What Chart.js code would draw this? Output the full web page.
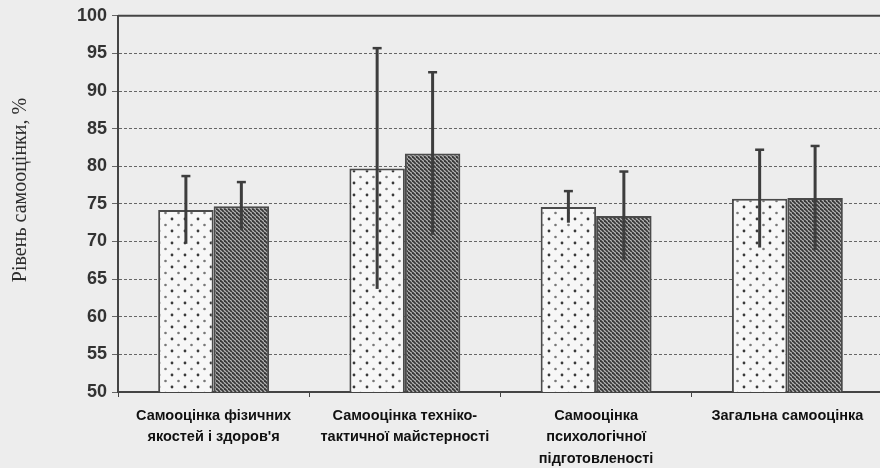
<!DOCTYPE html>
<html>
<head>
<meta charset="utf-8">
<script src="https://cdn.jsdelivr.net/npm/chart.js@4/dist/chart.umd.min.js"></script>
<style>
  html, body { margin: 0; padding: 0; background: #ededed; overflow: hidden; }
  #wrap { width: 883px; height: 468px; }
</style>
</head>
<body>
<div id="wrap"><canvas id="c" width="883" height="468"></canvas></div>
<script>
// ---- data ----
const categories = [
  ["Самооцінка фізичних", "якостей і здоров'я"],
  ["Самооцінка техніко-", "тактичної майстерності"],
  ["Самооцінка", "психологічної", "підготовленості"],
  ["Загальна самооцінка"]
];
const seriesA = [74.2, 79.7, 74.6, 75.7];
const errorsA = [4.5, 16.0, 2.1, 6.5];
const seriesB = [74.7, 81.7, 73.4, 75.8];
const errorsB = [3.2, 10.8, 5.9, 6.9];
const yTitle = "Рівень самооцінки, %";
const yMin = 50, yMax = 100, yStep = 5;

// ---- patterns ----
function dotPattern() {
  const c = document.createElement('canvas');
  c.width = 13; c.height = 12;
  const g = c.getContext('2d');
  g.fillStyle = '#f7f7f7';
  g.fillRect(0, 0, 13, 12);
  g.fillStyle = '#3a3a3a';
  g.beginPath(); g.arc(3, 3, 1.4, 0, Math.PI * 2); g.fill();
  g.fillStyle = '#777';
  g.beginPath(); g.arc(9.5, 9, 1.3, 0, Math.PI * 2); g.fill();
  return g.createPattern(c, 'repeat');
}
function hatchPattern() {
  const s = 4;
  const c = document.createElement('canvas');
  c.width = s; c.height = s;
  const g = c.getContext('2d');
  g.fillStyle = '#b8b8b8';
  g.fillRect(0, 0, s, s);
  g.strokeStyle = '#383838';
  g.lineWidth = 1.8;
  for (let k = -1; k <= 1; k++) {
    g.beginPath();
    g.moveTo(k * s, 0);
    g.lineTo(k * s + s, s);
    g.stroke();
  }
  return g.createPattern(c, 'repeat');
}

const errorSets = [errorsA, errorsB];

const bgPlugin = {
  id: 'bg',
  beforeDraw(chart) {
    const ctx = chart.ctx;
    ctx.save();
    ctx.fillStyle = '#ededed';
    ctx.fillRect(0, 0, chart.width, chart.height);
    ctx.restore();
  }
};

const framePlugin = {
  id: 'frame',
  afterDraw(chart) {
    const ctx = chart.ctx, a = chart.chartArea;
    ctx.save();
    ctx.strokeStyle = '#444';
    ctx.lineWidth = 2;
    ctx.beginPath();
    ctx.moveTo(a.left, a.top);
    ctx.lineTo(a.right, a.top);
    ctx.stroke();
    // y axis title
    ctx.fillStyle = '#2e2e2e';
    ctx.font = '20px "Liberation Serif", "DejaVu Serif", serif';
    ctx.textAlign = 'center';
    ctx.textBaseline = 'middle';
    ctx.translate(21, 190);
    ctx.rotate(-Math.PI / 2);
    ctx.fillText(yTitle, 0, 0);
    ctx.restore();
  }
};

const errorPlugin = {
  id: 'errbars',
  afterDatasetsDraw(chart) {
    const ctx = chart.ctx, y = chart.scales.y;
    ctx.save();
    ctx.strokeStyle = '#3d3d3d';
    chart.data.datasets.forEach((ds, i) => {
      const meta = chart.getDatasetMeta(i);
      meta.data.forEach((el, j) => {
        const v = ds.data[j], e = errorSets[i][j];
        const yt = y.getPixelForValue(v + e);
        const yb = y.getPixelForValue(v - e);
        ctx.lineWidth = 3;
        ctx.beginPath();
        ctx.moveTo(el.x, yt);
        ctx.lineTo(el.x, yb);
        ctx.stroke();
        ctx.lineWidth = 2.5;
        ctx.beginPath();
        ctx.moveTo(el.x - 4.5, yt);
        ctx.lineTo(el.x + 4.5, yt);
        ctx.stroke();
      });
    });
    ctx.restore();
  }
};

new Chart(document.getElementById('c'), {
  type: 'bar',
  data: {
    labels: categories,
    datasets: [
      { label: 'Група A', data: seriesA, backgroundColor: dotPattern(),
        borderColor: '#4a4a4a', borderWidth: 2, borderSkipped: 'start',
        categoryPercentage: 0.58, barPercentage: 1.0 },
      { label: 'Група B', data: seriesB, backgroundColor: hatchPattern(),
        borderColor: '#4a4a4a', borderWidth: 2, borderSkipped: 'start',
        categoryPercentage: 0.58, barPercentage: 1.0 }
    ]
  },
  options: {
    responsive: false,
    animation: false,
    devicePixelRatio: 1,
    layout: { padding: { top: 15, left: 0, right: 0, bottom: 0 } },
    plugins: { legend: { display: false }, tooltip: { enabled: false } },
    scales: {
      x: {
        offset: true,
        grid: { display: true, drawOnChartArea: false, drawTicks: true, tickLength: 5, color: '#444', offset: true },
        border: { display: true, color: '#444', width: 2 },
        ticks: {
          color: '#111',
          padding: 8,
          maxRotation: 0,
          autoSkip: false,
          font: { family: '"Liberation Sans", Arial, sans-serif', size: 14.5, weight: 'bold', lineHeight: 1.48 }
        },
        afterFit(s) { s.height = 76; }
      },
      y: {
        min: yMin, max: yMax,
        grid: { color: '#666', lineWidth: 1, tickLength: 6, drawTicks: true },
        border: { display: true, color: '#444', width: 2, dash: [3, 2] },
        ticks: {
          stepSize: yStep,
          color: '#333',
          padding: 5,
          font: { family: '"Liberation Sans", Arial, sans-serif', size: 18, weight: 'bold' }
        },
        afterFit(s) { s.width = 118; }
      }
    }
  },
  plugins: [bgPlugin, errorPlugin, framePlugin]
});
</script>
</body>
</html>
